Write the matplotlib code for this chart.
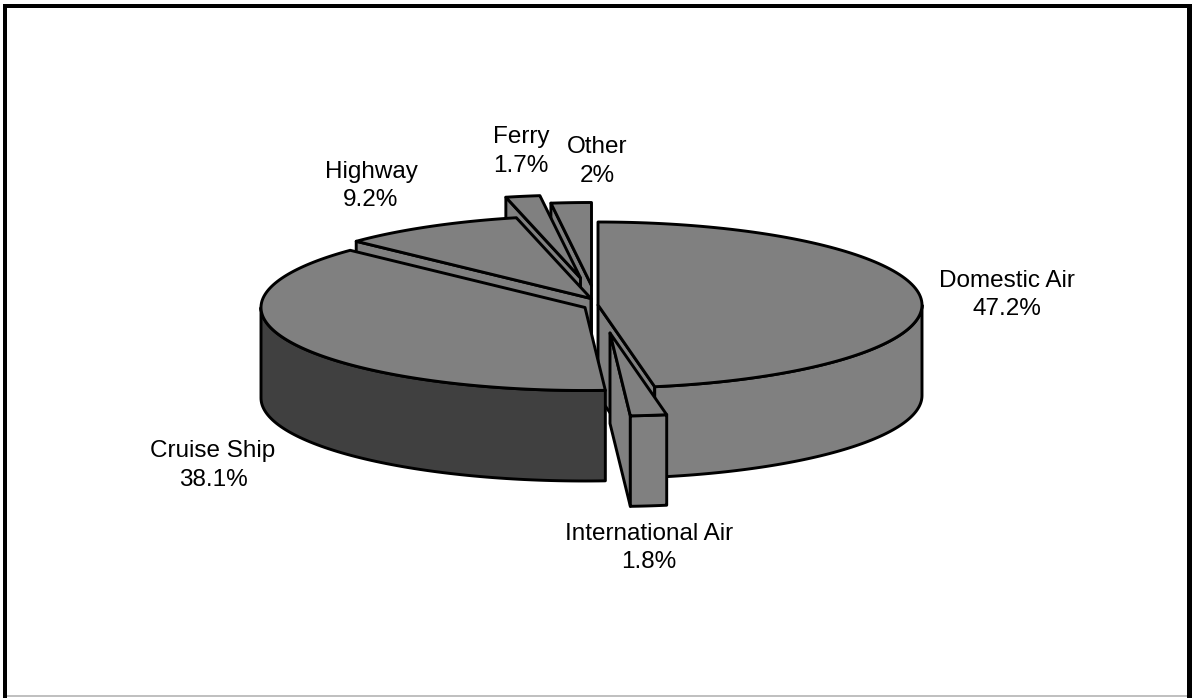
import numpy as np
import matplotlib
matplotlib.use('Agg')
import matplotlib.pyplot as plt
from matplotlib.patches import Polygon, Rectangle

labels = ['Domestic Air', 'International Air', 'Cruise Ship', 'Highway', 'Ferry', 'Other']
shares = [47.2, 1.8, 38.1, 9.2, 1.7, 2.0]

# layout of the exploded pie, in pixels
centres = [(598, 305), (610, 333), (585, 307.5), (591, 298.5), (580.5, 278), (591.5, 285.5)]
label_pos = [(1007, 295), (649, 548), (213, 465.5), (371, 186), (521, 151.5), (597, 161.5)]
wall_cols = ['#808080', '#808080', '#404040', '#808080', '#808080', '#808080']
draw_order = [5, 4, 3, 0, 2, 1]
rx, ry, depth = 324, 83, 90.5
top_col = '#808080'
lw = 2.1

plt.rcParams['font.family'] = 'Liberation Sans'
fig = plt.figure(figsize=(11.92, 6.98), dpi=100)
ax = fig.add_axes([0, 0, 1, 1])
ax.set_xlim(0, 1192)
ax.set_ylim(698, 0)
ax.axis('off')


def rim(c, angles):
    return np.column_stack([c[0] + rx*np.sin(angles), c[1] - ry*np.cos(angles)])


def add_poly(pts, col):
    ax.add_patch(Polygon(pts, closed=True, facecolor=col, edgecolor='black', linewidth=lw, joinstyle='round'))


def cut_face(c, ang, col):
    edge = rim(c, np.array([ang]))[0]
    add_poly([c, edge, (edge[0], edge[1] + depth), (c[0], c[1] + depth)], col)


def draw_slice(c, t0, t1, wall_col):
    # the radial faces only show when they turn towards the viewer
    if np.sin(t0) < 0:
        cut_face(c, t0, top_col)
    if np.sin(t1) > 0:
        cut_face(c, t1, top_col)
    w0, w1 = max(t0, np.pi/2), min(t1, 3*np.pi/2)
    if w1 > w0:
        front = rim(c, np.linspace(w0, w1, 80))
        low = front + [0, depth]
        add_poly(np.vstack([front, low[::-1]]), wall_col)
    top = rim(c, np.linspace(t0, t1, 120))
    add_poly(np.vstack([[c], top]), top_col)


edges = np.radians(np.cumsum([0] + shares) * 3.6)
for i in draw_order:
    draw_slice(centres[i], edges[i], edges[i+1], wall_cols[i])

for name, val, pos in zip(labels, shares, label_pos):
    ax.text(pos[0], pos[1], f'{name}\n{val:g}%', ha='center', va='center', fontsize=17.5,
            linespacing=1.38, color='black')

# frame around the chart
ax.add_patch(Rectangle((3, 4), 1188, 4, facecolor='black', edgecolor='none'))
ax.add_patch(Rectangle((3, 4), 4, 694, facecolor='black', edgecolor='none'))
ax.add_patch(Rectangle((1187, 4), 5, 694, facecolor='black', edgecolor='none'))
ax.add_patch(Rectangle((7, 695), 1180, 1.5, facecolor='#c0c0c0', edgecolor='none'))

fig.savefig('out.png', dpi=100)
